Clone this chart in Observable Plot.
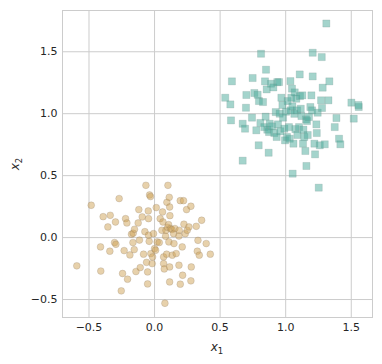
<!DOCTYPE html>
<html>
<head>
<meta charset="utf-8">
<script src="https://cdn.jsdelivr.net/npm/d3@7"></script>
<script src="https://cdn.jsdelivr.net/npm/@observablehq/plot@0.6"></script>
<style>
  html, body { margin: 0; padding: 0; background: #fff; }
  #chart svg { display: block; }
</style>
</head>
<body>
<div id="chart"></div>
<script>
// Class 0 (circles), x1 values and x2 values
const circleX1 = [-0.593,-0.483,-0.412,-0.410,-0.392,-0.356,-0.338,-0.341,-0.305,-0.295,-0.298,-0.270,-0.254,-0.244,-0.232,-0.221,-0.211,-0.206,-0.188,-0.176,-0.163,-0.165,-0.155,-0.142,-0.153,-0.125,-0.120,-0.115,-0.109,-0.094,-0.084,-0.074,-0.066,-0.061,-0.053,-0.048,-0.046,-0.046,-0.053,-0.038,-0.031,-0.041,-0.028,-0.018,-0.015,-0.008,0.000,0.008,0.013,0.020,0.036,0.043,0.061,0.056,0.064,0.069,0.069,0.074,0.079,0.084,0.087,0.092,0.094,0.099,0.102,0.107,0.109,0.115,0.112,0.115,0.115,0.117,0.122,0.132,0.135,0.145,0.148,0.155,0.165,0.186,0.186,0.188,0.196,0.196,0.211,0.214,0.221,0.224,0.234,0.244,0.249,0.262,0.277,0.280,0.277,0.318,0.326,0.331,0.341,0.359,0.394,0.425];
const circleX2 = [-0.228,0.261,-0.075,-0.270,0.169,0.086,0.180,-0.110,-0.040,-0.054,0.126,0.315,-0.430,-0.290,-0.105,0.153,0.118,-0.336,-0.140,0.027,0.035,-0.040,-0.097,-0.274,0.067,0.118,0.226,-0.020,-0.242,0.167,-0.134,0.048,0.422,-0.200,-0.374,0.215,0.019,0.153,-0.277,0.344,0.331,-0.030,-0.129,-0.210,-0.156,0.032,-0.089,-0.102,0.242,-0.035,-0.040,0.153,0.207,0.059,0.126,-0.156,-0.210,-0.253,-0.530,0.011,0.059,-0.134,0.285,0.083,0.422,0.105,-0.035,0.247,0.325,-0.237,-0.358,0.177,0.073,0.065,-0.142,0.032,-0.048,0.073,-0.129,0.013,-0.223,0.059,0.298,-0.376,-0.075,-0.304,0.298,0.108,0.032,0.226,0.059,0.086,0.253,-0.237,-0.349,0.091,-0.110,-0.022,-0.142,0.140,-0.048,-0.134];

// Class 1 (squares)
const squareX1 = [0.539,0.583,0.578,0.590,0.672,0.672,0.690,0.697,0.700,0.748,0.743,0.761,0.776,0.794,0.796,0.786,0.812,0.807,0.827,0.837,0.842,0.847,0.850,0.855,0.860,0.870,0.873,0.878,0.888,0.896,0.906,0.913,0.924,0.931,0.936,0.949,0.941,0.954,0.959,0.967,0.975,0.980,0.990,0.995,1.003,1.010,1.015,1.025,1.031,1.036,1.038,1.043,1.048,1.051,1.053,1.059,1.066,1.069,1.074,1.081,1.087,1.089,1.102,1.107,1.109,1.115,1.120,1.127,1.132,1.135,1.142,1.150,1.155,1.158,1.163,1.168,1.178,1.188,1.196,1.201,1.206,1.206,1.219,1.224,1.234,1.237,1.244,1.252,1.260,1.270,1.275,1.277,1.282,1.298,1.310,1.326,1.333,1.374,1.387,1.407,1.417,1.501,1.519,1.557,1.555];
const squareX2 = [1.129,0.946,1.075,1.261,0.919,0.621,0.879,1.048,1.151,1.288,0.968,1.167,0.866,0.745,1.102,1.153,1.484,0.925,1.094,0.892,1.261,0.976,1.355,1.196,0.871,0.685,0.852,0.919,1.242,0.898,1.212,0.844,1.013,0.812,1.255,1.255,0.914,1.000,0.858,1.129,1.070,0.968,0.879,0.785,1.016,0.812,1.102,0.892,0.798,1.263,1.027,1.129,1.202,1.059,0.516,0.758,0.999,1.172,0.876,1.121,1.027,0.828,0.892,1.317,1.142,1.040,0.981,1.148,0.758,0.871,0.812,0.699,0.954,0.578,0.941,0.828,0.973,1.054,1.148,1.027,1.492,1.301,0.758,0.672,0.914,0.844,1.008,0.403,0.745,1.108,1.457,1.046,1.210,0.753,1.728,1.108,1.261,0.892,0.965,0.798,0.753,1.089,0.960,1.054,1.070];

const xTicks = [-0.5, 0.0, 0.5, 1.0, 1.5];
const yTicks = [-0.5, 0.0, 0.5, 1.0, 1.5];

const circles = circleX1.map((v, i) => ({x1: v, x2: circleX2[i]}));
const squares = squareX1.map((v, i) => ({x1: v, x2: squareX2[i]}));
const fmt = d3.format(".1f");

const chart = Plot.plot({
  width: 382,
  height: 364,
  marginLeft: 62,
  marginRight: 10,
  marginTop: 10,
  marginBottom: 47,
  style: {fontFamily: "DejaVu Sans, sans-serif", fontSize: "11px", color: "#262626", background: "#ffffff"},
  x: {domain: [-0.702, 1.662], label: null},
  y: {domain: [-0.645, 1.833], label: null},
  marks: [
    Plot.gridX(xTicks, {stroke: "#cccccc", strokeOpacity: 1, strokeWidth: 1}),
    Plot.gridY(yTicks, {stroke: "#cccccc", strokeOpacity: 1, strokeWidth: 1}),
    Plot.frame({stroke: "#cccccc", strokeWidth: 1}),
    Plot.axisX(xTicks, {tickSize: 0, tickPadding: 6, tickFormat: fmt, fill: "#262626"}),
    Plot.axisY(yTicks, {tickSize: 0, tickPadding: 5, tickFormat: fmt, fill: "#262626"}),
    Plot.dot(circles, {x: "x1", y: "x2", r: 3.4, symbol: "circle", fill: "#d0a458", fillOpacity: 0.5, stroke: "#8a7b6a", strokeOpacity: 0.3, strokeWidth: 0.8}),
    Plot.dot(squares, {x: "x1", y: "x2", r: 4.0, symbol: "square", fill: "#4aa99a", fillOpacity: 0.5, stroke: "#6c8a85", strokeOpacity: 0.25, strokeWidth: 0.8})
  ]
});

document.getElementById("chart").appendChild(chart);

// Axis titles (mathtext style x with subscript)
const svg = d3.select(chart);
const xl = svg.append("text")
  .attr("x", 217).attr("y", 351)
  .attr("text-anchor", "middle")
  .attr("font-family", "DejaVu Sans, sans-serif")
  .attr("font-size", "12px")
  .attr("fill", "#262626");
xl.append("tspan").attr("font-style", "italic").text("x");
xl.append("tspan").attr("font-size", "8.5px").attr("dy", "3").text("1");

const yl = svg.append("text")
  .attr("transform", "translate(19,164) rotate(-90)")
  .attr("text-anchor", "middle")
  .attr("font-family", "DejaVu Sans, sans-serif")
  .attr("font-size", "12px")
  .attr("fill", "#262626");
yl.append("tspan").attr("font-style", "italic").text("x");
yl.append("tspan").attr("font-size", "8.5px").attr("dy", "3").text("2");
</script>
</body>
</html>
